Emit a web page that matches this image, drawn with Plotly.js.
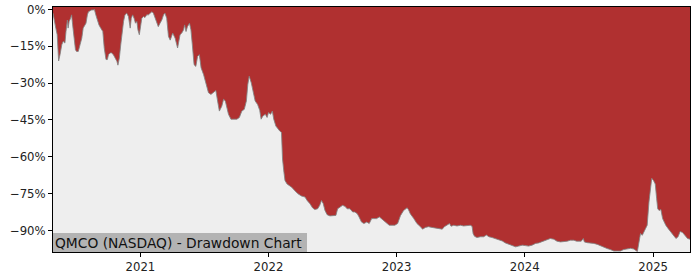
<!DOCTYPE html>
<html>
<head>
<meta charset="utf-8">
<script src="https://cdn.plot.ly/plotly-3.0.1.min.js"></script>
<style>html,body{margin:0;padding:0;background:#fff;}#chart{width:700px;height:280px;}</style>
</head>
<body>
<div id="chart"></div>
<script>
// ---- data ----
const chartTitle = "QMCO (NASDAQ) - Drawdown Chart";
const dates = [
"2020-04-27","2020-04-30","2020-05-05","2020-05-09","2020-05-13","2020-05-17","2020-05-22","2020-05-26","2020-05-31",
"2020-06-03","2020-06-07","2020-06-09","2020-06-12","2020-06-16","2020-06-19","2020-06-22","2020-06-26","2020-06-30",
"2020-07-03","2020-07-08","2020-07-13","2020-07-18","2020-07-22","2020-07-27","2020-07-30",
"2020-08-03","2020-08-06","2020-08-10","2020-08-15","2020-08-20","2020-08-23","2020-08-27","2020-08-31",
"2020-09-05","2020-09-10","2020-09-16","2020-09-20","2020-09-25","2020-09-29",
"2020-10-02","2020-10-07","2020-10-11","2020-10-16","2020-10-21","2020-10-26","2020-10-29",
"2020-11-02","2020-11-06","2020-11-10","2020-11-14","2020-11-18","2020-11-23","2020-11-28",
"2020-12-03","2020-12-06","2020-12-10","2020-12-14","2020-12-18","2020-12-22","2020-12-25","2020-12-29",
"2021-01-02","2021-01-05","2021-01-10","2021-01-14","2021-01-19","2021-01-24","2021-01-29",
"2021-02-03","2021-02-07","2021-02-12","2021-02-17","2021-02-21","2021-02-26",
"2021-03-03","2021-03-08","2021-03-12","2021-03-17","2021-03-22","2021-03-27",
"2021-04-03","2021-04-10","2021-04-17","2021-04-24","2021-04-29",
"2021-05-04","2021-05-07","2021-05-11","2021-05-15","2021-05-21","2021-05-25","2021-05-29",
"2021-06-03","2021-06-08","2021-06-13","2021-06-18","2021-06-23","2021-06-30",
"2021-07-07","2021-07-14","2021-07-21","2021-07-28",
"2021-08-04","2021-08-09","2021-08-14","2021-08-21","2021-08-26","2021-08-31",
"2021-09-05","2021-09-09","2021-09-16","2021-09-23",
"2021-10-03","2021-10-10","2021-10-17","2021-10-24","2021-10-30",
"2021-11-03","2021-11-07","2021-11-13","2021-11-19","2021-11-24",
"2021-12-01","2021-12-07","2021-12-11","2021-12-16","2021-12-23","2021-12-28",
"2022-01-01","2022-01-07","2022-01-12","2022-01-16","2022-01-22","2022-01-28",
"2022-02-02","2022-02-07","2022-02-10","2022-02-14","2022-02-17","2022-02-23",
"2022-03-01","2022-03-08","2022-03-17","2022-03-26",
"2022-04-05","2022-04-15","2022-04-21","2022-04-29",
"2022-05-07","2022-05-13","2022-05-21","2022-05-27",
"2022-06-01","2022-06-06","2022-06-11","2022-06-17","2022-06-25",
"2022-07-04","2022-07-12","2022-07-17","2022-07-23","2022-07-31",
"2022-08-07","2022-08-13","2022-08-21","2022-08-29",
"2022-09-04","2022-09-11","2022-09-16","2022-09-23","2022-09-30",
"2022-10-08","2022-10-15","2022-10-22","2022-10-28",
"2022-11-05","2022-11-13","2022-11-19","2022-11-26",
"2022-12-04","2022-12-11","2022-12-19","2022-12-27",
"2023-01-04","2023-01-12","2023-01-21","2023-01-31",
"2023-02-04","2023-02-09","2023-02-19","2023-02-28",
"2023-03-10","2023-03-16","2023-03-24",
"2023-04-02","2023-04-12","2023-04-21",
"2023-05-01","2023-05-11","2023-05-17","2023-05-25",
"2023-06-01","2023-06-05","2023-06-13","2023-06-22",
"2023-07-02","2023-07-11","2023-07-21","2023-07-30",
"2023-08-04","2023-08-07","2023-08-11","2023-08-18","2023-08-28",
"2023-09-06","2023-09-14","2023-09-21","2023-09-30",
"2023-10-10","2023-10-19","2023-10-29",
"2023-11-07","2023-11-17","2023-11-26",
"2023-12-06","2023-12-15","2023-12-25",
"2024-01-03","2024-01-12","2024-01-22",
"2024-02-01","2024-02-10","2024-02-20",
"2024-03-05","2024-03-14","2024-03-24",
"2024-04-02","2024-04-12","2024-04-21",
"2024-05-01","2024-05-10","2024-05-20","2024-05-28",
"2024-06-03","2024-06-10","2024-06-16","2024-06-19","2024-06-27",
"2024-07-06","2024-07-16","2024-07-26",
"2024-08-04","2024-08-13","2024-08-23",
"2024-09-01","2024-09-11","2024-09-21","2024-09-30",
"2024-10-09","2024-10-19","2024-10-29",
"2024-11-07","2024-11-17","2024-11-21","2024-11-26",
"2024-12-01","2024-12-06","2024-12-10","2024-12-15","2024-12-20","2024-12-25","2024-12-28",
"2025-01-02","2025-01-07","2025-01-11","2025-01-14","2025-01-18","2025-01-23","2025-01-28",
"2025-02-01","2025-02-06","2025-02-13","2025-02-20","2025-02-28",
"2025-03-07","2025-03-13","2025-03-19","2025-03-26",
"2025-04-01","2025-04-09","2025-04-16"
];
const drawdownPct = [
-1.5,-4.2,-7.6,-10.3,-21,-18.4,-14.4,-13,-13.7,
-9,-4.3,-7.6,-4.9,-3.6,-2.2,-6.3,-11.7,-16.4,
-17.1,-17.1,-14.4,-11.7,-7.6,-6.3,-5.6,
-2.2,-0.9,-0.6,-0.2,-0.2,0,-2.2,-4.3,
-6.3,-7.6,-9,-15.7,-20.4,-20.4,
-18.4,-17.7,-17.7,-18.4,-19.8,-21.1,-22.7,
-19.8,-14.4,-9,-4.9,-2.2,-1.5,-2.9,
-7.6,-3.6,-2.2,-3.6,-5.6,-4.9,-8.3,-10.3,
-5.6,-3.6,-2.9,-3.3,-2.2,-2.2,-1.5,
-0.9,-1.5,-3.6,-4.9,-7,-5.6,
-4.3,-2.2,-1.5,-3.6,-11,-12.5,
-9.6,-11.7,-15.7,-10.3,-9.6,
-8.3,-6.3,-9,-7,-5.6,-8.3,-14.4,
-22.5,-23.2,-19.1,-18.4,-23.8,-26.5,
-29.9,-33.9,-34.6,-33.9,
-33,-37.3,-41.4,-39.4,-36.6,-37.3,
-40,-42.7,-44.7,-44.7,
-44.7,-44,-41.4,-40.7,-37.3,
-30.6,-27.2,-29.9,-33.9,-37.3,
-38.7,-41.1,-44.7,-43.4,-42.7,-44,
-42,-42.7,-41.4,-44.7,-47.5,-48.8,
-49.5,-50.1,-60.9,-66.3,-69.7,-71.1,
-71.7,-72.4,-73.8,-75.1,
-76,-76.4,-77.8,-79.1,
-80.9,-81.5,-81.2,-79.8,
-77.8,-79.1,-81.9,-83.6,-84.1,
-84.1,-83.9,-81.2,-80.5,-79.8,
-80.2,-81.2,-81.2,-82.5,
-82.5,-83.2,-84.5,-86.6,-87.2,
-86.6,-87.2,-85.2,-85.2,
-85.2,-84.5,-85.2,-85.9,
-87.2,-87.9,-87.9,-87.9,
-87.2,-84,-81.9,-80.8,
-81.6,-83.2,-85.2,-87.2,
-88.5,-89.5,-88.8,
-88.5,-88.8,-89.1,
-89.3,-89.5,-88.5,-87.9,
-87.2,-88.3,-87.9,-88.2,
-87.9,-88.2,-88.2,-87.9,
-88.3,-91.3,-92.4,-92.9,-92.6,
-92.6,-91.9,-92.6,-92.9,
-93.3,-93.7,-94.3,
-95.1,-95.6,-96.2,
-96.7,-96.4,-96,
-96.2,-96.4,-96,
-95.3,-95.1,-94.5,
-93.6,-93.3,-93.6,
-94.4,-94.7,-94.7,
-94.4,-94,-94,-94.4,
-94.4,-94.4,-93.3,-94.7,-95,
-95,-95.3,-95.7,
-96.3,-96.9,-97.4,
-97.8,-98.4,-98.4,-98.4,
-97.8,-97.6,-97.3,
-97.6,-98.6,-95.3,-91.3,
-92,-90.6,-89.9,-87.9,-78.5,-71.7,-68.8,
-69.7,-71.1,-77.1,-81.2,-81.9,-81.5,-85.2,
-86.6,-87.9,-89.3,-90.6,-92,
-93.3,-92.6,-90.4,-90.9,
-92,-93.3,-93.6
];
const yTickVals = [0, -15, -30, -45, -60, -75, -90];
const yTickText = ["0%", "\u221215%", "\u221230%", "\u221245%", "\u221260%", "\u221275%", "\u221290%"];
const yRange = [-98.8, 1.0];

// ---- styles ----
const RED = "rgb(176,48,48)";
const GRAY_BG = "#eeeeee";
const FONT = "DejaVu Sans";

const floorTrace = {
  x: dates,
  y: dates.map(() => yRange[0]),
  mode: "lines",
  line: {width: 0, color: "rgba(0,0,0,0)"},
  hoverinfo: "skip",
  showlegend: false
};
const ddTrace = {
  x: dates,
  y: drawdownPct,
  mode: "lines",
  fill: "tonexty",
  fillcolor: GRAY_BG,
  line: {color: "rgba(130,130,130,0.85)", width: 1},
  showlegend: false
};

const layout = {
  width: 700, height: 280,
  margin: {l: 53, r: 10, t: 7, b: 28, pad: 0},
  paper_bgcolor: "#ffffff",
  plot_bgcolor: RED,
  showlegend: false,
  xaxis: {
    type: "date",
    range: [dates[0], dates[dates.length - 1]],
    showgrid: false, zeroline: false,
    showline: true, linecolor: "#000", linewidth: 1, mirror: true,
    ticks: "outside", ticklen: 4, tickcolor: "#000", tickwidth: 1,
    tick0: "2021-01-01", dtick: "M12", tickformat: "%Y",
    tickfont: {family: FONT, size: 11.7, color: "#222"}
  },
  yaxis: {
    range: yRange,
    showgrid: false, zeroline: false,
    showline: true, linecolor: "#000", linewidth: 1, mirror: true,
    ticks: "outside", ticklen: 4, tickcolor: "#000", tickwidth: 1,
    tickmode: "array", tickvals: yTickVals, ticktext: yTickText,
    tickfont: {family: FONT, size: 11.7, color: "#222"}
  },
  annotations: [{
    text: chartTitle,
    xref: "paper", yref: "paper", x: 0, y: 0,
    xanchor: "left", yanchor: "bottom",
    showarrow: false, align: "left",
    bgcolor: "#b3b3b3", borderwidth: 0, borderpad: 2,
    width: 250, height: 15,
    font: {family: FONT, size: 13.8, color: "#111"}
  }]
};

Plotly.newPlot("chart", [floorTrace, ddTrace], layout, {staticPlot: true, displayModeBar: false});
</script>
</body>
</html>
